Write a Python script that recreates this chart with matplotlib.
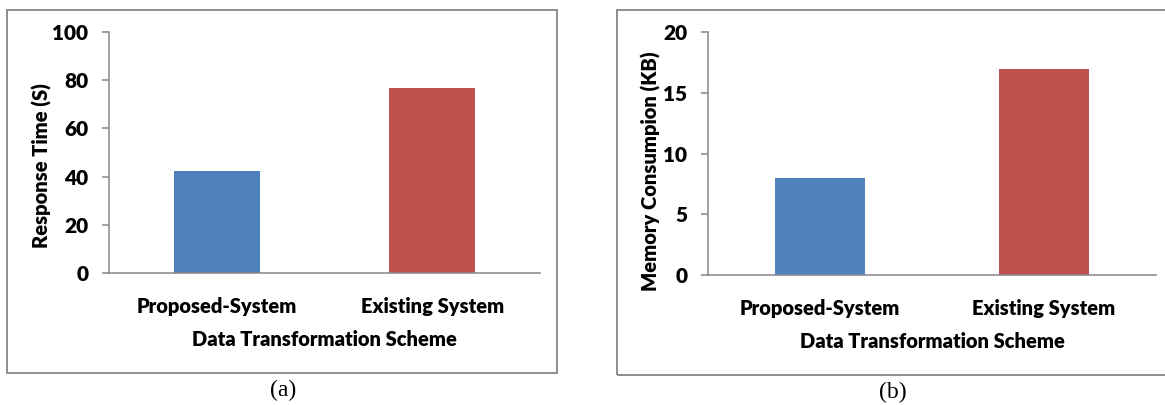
import matplotlib
matplotlib.use("Agg")
import matplotlib.pyplot as plt
from matplotlib.patches import Rectangle

# Data
schemes = ["Proposed-System", "Existing System"]
response_time = [42.5, 76.5]
memory_kb = [8, 17]
bar_colors = ["#4F81BD", "#C0504D"]

W, H = 1165, 405
fig = plt.figure(figsize=(W / 100, H / 100), dpi=100)

FONT = "Lato"
WEIGHT = "heavy"
GRAY = "#868686"


def px_axes(left, right, top, bottom):
    return fig.add_axes([left / W, 1 - bottom / H, (right - left) / W, (bottom - top) / H])


def style(ax, values, ymax, step, ylabel, ylab_xy, xlab_y):
    x = range(len(schemes))
    ax.bar(x, values, width=0.4, color=bar_colors, edgecolor="none")
    ax.set_xlim(-0.5, len(schemes) - 0.5)
    ax.set_ylim(0, ymax)
    ax.set_yticks(range(0, ymax + 1, step))
    ax.set_xticks(list(x))
    ax.set_xticklabels(schemes, fontfamily=FONT, fontweight=WEIGHT, fontsize=14.5)
    for lab in ax.get_yticklabels():
        lab.set_fontfamily(FONT)
        lab.set_fontweight(WEIGHT)
        lab.set_fontsize(15)
    ax.tick_params(axis="y", direction="out", length=5, width=1.1, color=GRAY, pad=10)
    ax.tick_params(axis="x", length=0, pad=17)
    for s in ("top", "right"):
        ax.spines[s].set_visible(False)
    for s in ("left", "bottom"):
        ax.spines[s].set_color(GRAY)
        ax.spines[s].set_linewidth(1.1)
    ax.set_facecolor("none")
    fig.text(ylab_xy[0] / W, 1 - ylab_xy[1] / H, ylabel, rotation=90, ha="center", va="center",
             fontfamily=FONT, fontweight=WEIGHT, fontsize=14.5)
    pos = ax.get_position()
    fig.text((pos.x0 + pos.x1) / 2, 1 - xlab_y / H, "Data Transformation Scheme", ha="center",
             va="center", fontfamily=FONT, fontweight=WEIGHT, fontsize=14.5)


# Panel frames
for (x0, x1, y0, y1) in [(7, 557, 10, 373), (617, 1175, 10, 375)]:
    fig.add_artist(Rectangle((x0 / W, 1 - y1 / H), (x1 - x0) / W, (y1 - y0) / H,
                             transform=fig.transFigure, fill=False, edgecolor=GRAY, linewidth=1.3))

ax1 = px_axes(109.3, 540, 31.6, 273.3)
style(ax1, response_time, 100, 20, "Response Time (S)", (42, 166), 339)

ax2 = px_axes(708.3, 1156, 32.3, 275)
style(ax2, memory_kb, 20, 5, "Memory Consumpion (KB)", (651, 171), 341)

fig.text(283 / W, 1 - 390 / H, "(a)", ha="center", va="center",
         fontfamily="Liberation Serif", fontsize=17)
fig.text(893 / W, 1 - 392 / H, "(b)", ha="center", va="center",
         fontfamily="Liberation Serif", fontsize=17)

fig.savefig("out.png", dpi=100)
